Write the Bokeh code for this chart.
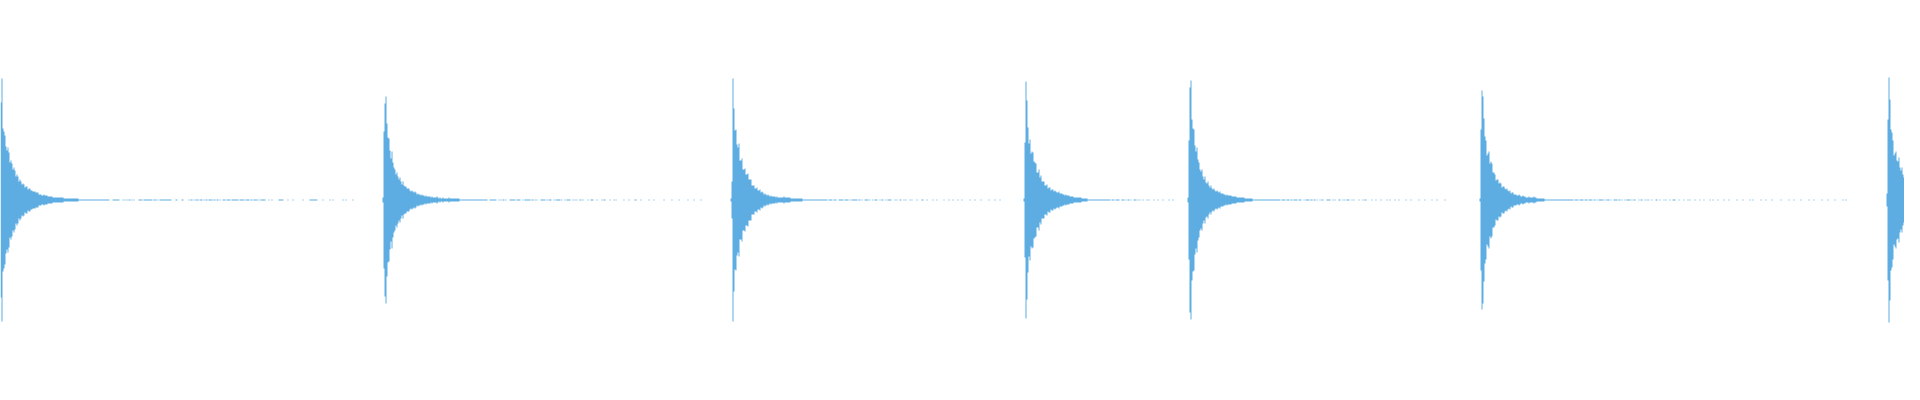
from bokeh.plotting import figure
from bokeh.models import ColumnDataSource, Range1d
from bokeh.embed import file_html
from bokeh.resources import INLINE

# Waveform: each value = peak height (px units) above the centre row for one sample column
onsets = [0, 382, 730, 1023, 1187, 1479, 1886]

decay_1 = [97, 121, 71, 68, 64, 53, 49, 52, 47, 37, 39, 36, 30, 32, 29, 23, 25, 23, 18, 20,
           18, 15, 16, 15, 12, 13, 13, 10, 11, 11, 9, 9, 8, 8, 8, 7, 7, 7, 5, 5,
           5, 4, 4, 5, 4, 4, 4, 3, 3, 3]
decay_2 = [2, 68, 96, 103, 76, 62, 61, 49, 41, 48, 37, 32, 30, 25, 27, 23, 20, 22, 18, 15,
           18, 14, 13, 13, 11, 11, 11, 9, 8, 9, 8, 7, 8, 7, 5, 6, 5, 5, 4, 5,
           4, 4, 3, 4, 3, 3]
decay_3 = [1, 18, 121, 91, 69, 70, 55, 52, 56, 39, 39, 41, 30, 30, 31, 25, 25, 26, 20, 20,
           20, 14, 14, 14, 11, 11, 12, 9, 9, 10, 7, 8, 7, 5, 6, 5, 4, 5, 4, 3,
           4, 3, 3, 3, 3]
decay_4 = [1, 57, 118, 99, 72, 56, 60, 46, 48, 47, 38, 37, 36, 27, 27, 30, 22, 24, 18, 18,
           18, 14, 14, 15, 11, 12, 12, 9, 10, 10, 8, 9, 8, 7, 7, 8, 6, 6, 6, 5,
           5, 4, 5, 4, 4, 4, 3, 3, 3, 3]
decay_5 = [2, 59, 112, 119, 80, 71, 70, 54, 48, 52, 40, 37, 30, 28, 30, 23, 20, 23, 17, 16,
           18, 14, 12, 14, 11, 10, 11, 9, 8, 9, 8, 7, 8, 6, 6, 6, 5, 5, 4, 5,
           4, 4, 4, 4, 3, 3]
decay_6 = [1, 70, 109, 103, 81, 63, 59, 44, 46, 48, 36, 38, 36, 27, 27, 25, 19, 20, 20, 16,
           17, 16, 12, 13, 13, 11, 10, 11, 9, 8, 9, 6, 7, 7, 5, 5, 5, 4, 4, 5,
           4, 3, 3, 4, 3, 3]
decay_7 = [6, 80, 122, 100, 70, 67, 59, 44, 46, 48, 39, 38, 42, 32, 29, 32, 25, 22, 23, 19,
           17, 19, 15, 13, 14, 12, 11, 12, 11, 10, 11, 10, 8, 8]

# quiet tails after each decay: digit = small height, "." = silent column
tail_1 = ("3322222222222" "111111111111111" "0000000000000000000000000000000"
          "..." "0000000" "..." "0.0.0.00.0.0" "...." "0000.00000000" "0.000.0."
          "000000000000" "....00....00....." "0.00.0.000.000.0.00.0000.00.00.0" ".."
          "000.0000.0000000.00000" "." "0000.00.0000.0.00000"
          "...0..0......00000....0....0......"
          "...0......00000000.....0......0..0.........0..0......0.")
tail_2 = ("332322223" "212112" "1111121111111111" "0000000000000000000000000000"
          "..0000000..0.0.00.0...000000.0000..0.000000.00.0.0"
          "...00000.0.000..0.00000.0..0.0000..0.0.0"
          "..00.0....0..000...0....0.00....0...0.0..."
          "....0....0.....00....0.......0....0......"
          "...0.......0......0........0.....0......0")
tail_3 = ("232222223222222" "111111111111" "000000000000000000000000"
          "0.0000.000..00000.0000.0.000000.00.0..0000.0"
          "..0.000..0.00..0.0000...0.0..00..0.0...0.0."
          "...0....00...0.....0...0......0....0...0....0"
          "...0.......0....0.....0.......0.....0....0")
tail_4 = ("22222222" "111111" "0000000000000000000000"
          "0.000.0000..000.0.00.0..000.0.0"
          "..0...0.0....0...0....0.....0...0...")
tail_5 = ("33322222222" "11111111" "000000000000000000000000000"
          "0.0000.000.00.0000.000..0.0000.00.00.0"
          "..0.00...0000..0.0...00..0.0.000..0.0"
          "....0...0.00.....0...0....0.....0..0....0"
          "...0......0....0.......0.....0......0....0.......0....")
tail_6 = ("22232222322" "11111111" "0000000000000000000000000000"
          "0.0000.0000.000.0000.00.0.00000.0.000.0"
          "..0000.00.0..0.0000.0.00...0.00..0.0.0.."
          "0...00..0...0.0...0..000...0....0...0.0.."
          "..0....0...0.....0..0....0.....0....0...."
          "...0.....0......0..0.......0....0.....0..."
          ".....0.......0....0......0.......0....0..."
          "....0.....0......0.......0..0")
tail_7 = ""

decays = [decay_1, decay_2, decay_3, decay_4, decay_5, decay_6, decay_7]
tails = [tail_1, tail_2, tail_3, tail_4, tail_5, tail_6, tail_7]

# collect (column, height) samples
cols = {}
for onset, dec, tail in zip(onsets, decays, tails):
    for i, v in enumerate(dec):
        cols[onset + i] = v
    for j, ch in enumerate(tail):
        if ch != ".":
            cols[onset + len(dec) + j] = int(ch)

# build one solid stepped polygon per contiguous run of columns
poly_x, poly_y = [], []
run = []
for x in sorted(cols) + [None]:
    if run and (x is None or x != run[-1] + 1):
        top_x, top_y, bot_x, bot_y = [], [], [], []
        for c in run:
            h = cols[c] + 0.5
            top_x += [c, c + 1]
            top_y += [h, h]
            bot_x += [c, c + 1]
            bot_y += [-h, -h]
        poly_x.append(top_x + bot_x[::-1])
        poly_y.append(top_y + bot_y[::-1])
        run = []
    if x is not None:
        run.append(x)

src = ColumnDataSource(dict(xs=poly_x, ys=poly_y))

p = figure(width=1904, height=384, output_backend="svg", toolbar_location=None,
           x_range=Range1d(0, 1904), y_range=Range1d(-184.5, 199.5),
           min_border=0, min_border_left=0, min_border_right=0,
           min_border_top=0, min_border_bottom=0)
p.axis.visible = False
p.grid.visible = False
p.outline_line_color = None
p.background_fill_color = "white"
p.border_fill_color = "white"

p.patches(xs="xs", ys="ys", source=src, fill_color="#5DADE2", line_color=None)

open("out.html", "w").write(file_html(p, INLINE))
